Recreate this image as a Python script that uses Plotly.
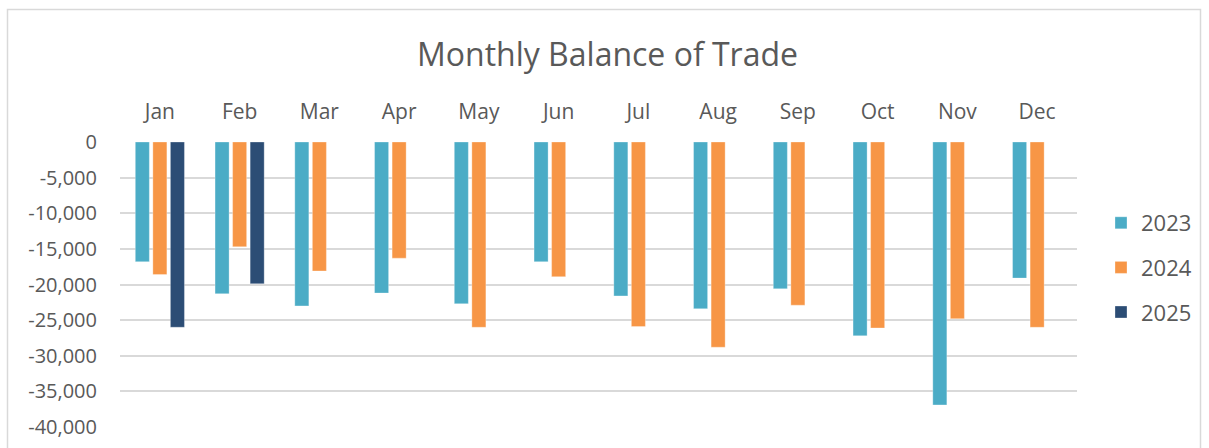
import plotly.graph_objects as go

months = ["Jan", "Feb", "Mar", "Apr", "May", "Jun", "Jul", "Aug", "Sep", "Oct", "Nov", "Dec"]
y2023 = [-16800, -21300, -23000, -21200, -22700, -16800, -21600, -23400, -20600, -27200, -36900, -19100]
y2024 = [-18600, -14700, -18100, -16300, -26000, -18900, -25900, -28800, -22900, -26100, -24800, -26000]
y2025 = [-26000, -19900, None, None, None, None, None, None, None, None, None, None]
series_names = ["2023", "2024", "2025"]
series_colors = ["#4BACC6", "#F79646", "#2C4D75"]
tick_vals = [0, -5000, -10000, -15000, -20000, -25000, -30000, -35000, -40000]
tick_text = ["0", "-5,000", "-10,000", "-15,000", "-20,000", "-25,000", "-30,000", "-35,000", "-40,000"]

FONT = "'Open Sans', Lato, sans-serif"
TXT = "#595959"

fig = go.Figure()
for name, vals, col in zip(series_names, [y2023, y2024, y2025], series_colors):
    fig.add_trace(go.Bar(
        x=months, y=vals, name=name, legendgroup=name,
        marker=dict(color=col, line=dict(color="rgba(255,255,255,0.5)", width=0.6)),
    ))

W, H = 1209, 448
L, R, T, B = 120, 132, 142, 21
pw, ph = W - L - R, H - T - B

def px_x(p):
    return (p - L) / pw

def px_y(p):
    return (H - B - p) / ph

fig.update_layout(
    width=W, height=H,
    margin=dict(l=L, r=R, t=T, b=B, autoexpand=False),
    paper_bgcolor="white", plot_bgcolor="white",
    barmode="group", bargap=0.34, bargroupgap=0.2,
    font=dict(family=FONT, color=TXT, size=21),
    title=dict(text="Monthly Balance of Trade", x=px_x(607.5), xref="paper", xanchor="center",
               y=1 - 55 / H, yanchor="middle", yref="container",
               font=dict(size=32, color=TXT, family=FONT)),
    xaxis=dict(side="top", showgrid=False, showline=False, ticks="", automargin=False,
               tickfont=dict(size=21, color=TXT), ticklabelstandoff=18),
    yaxis=dict(range=[-40000, 0], tickvals=tick_vals, ticktext=tick_text, automargin=False,
               showgrid=True, gridcolor="#D9D9D9", gridwidth=1.5,
               zeroline=False, showline=False, ticks="",
               tickfont=dict(size=20, color=TXT), ticklabelstandoff=22),
    legend=dict(x=px_x(1101), y=px_y(202), xanchor="left", yanchor="top",
                font=dict(size=22, color=TXT), tracegroupgap=13,
                itemwidth=30, bgcolor="rgba(0,0,0,0)"),
    shapes=[dict(type="rect", xref="paper", yref="paper",
                 x0=px_x(7.5), x1=px_x(1200.5), y0=px_y(470), y1=px_y(9.5),
                 line=dict(color="#D9D9D9", width=1.5), fillcolor="rgba(0,0,0,0)", layer="below")],
)

fig.write_html("out.html", config={"displayModeBar": False},
               post_script="document.body.style.margin='0';document.body.style.overflow='hidden';")
